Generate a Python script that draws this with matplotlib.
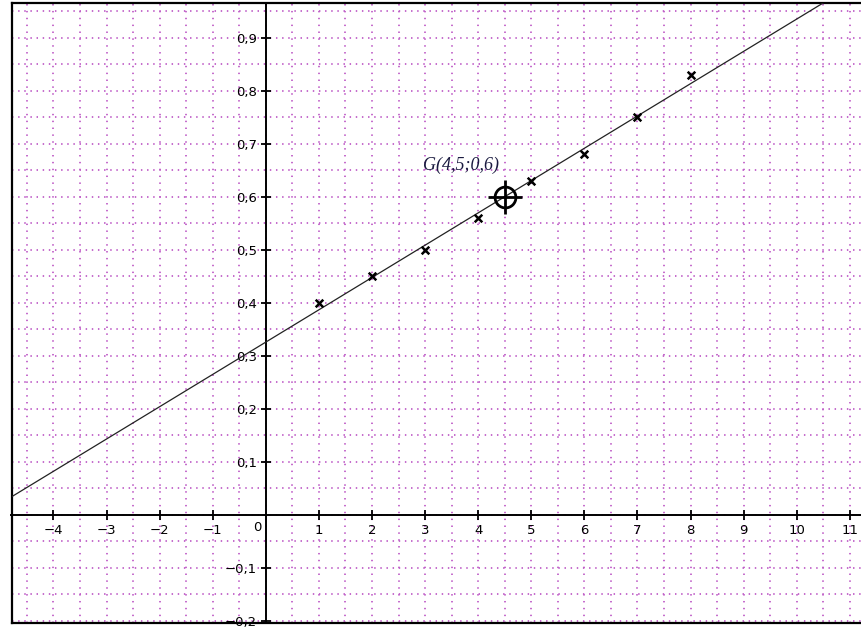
import numpy as np
from matplotlib import pyplot as plt

# data
x_pts = [1, 2, 3, 4, 5, 6, 7, 8]
y_pts = [0.40, 0.45, 0.50, 0.56, 0.63, 0.68, 0.75, 0.83]
g_x, g_y = 4.5, 0.6
g_label = "G(4,5;0,6)"

x_ticks = [-4, -3, -2, -1, 1, 2, 3, 4, 5, 6, 7, 8, 9, 10, 11]
y_ticks = [-0.2, -0.1, 0.1, 0.2, 0.3, 0.4, 0.5, 0.6, 0.7, 0.8, 0.9]

xmin, xmax = -4.79, 11.21
ymin, ymax = -0.2043, 0.9655

# least squares line through the points
xa = np.array(x_pts, dtype=float)
ya = np.array(y_pts, dtype=float)
slope = ((xa - xa.mean()) * (ya - ya.mean())).sum() / ((xa - xa.mean()) ** 2).sum()
icpt = ya.mean() - slope * xa.mean()

fig = plt.figure(figsize=(8.61, 6.28), dpi=100)
ax = fig.add_axes([11.5 / 861, 5 / 628, 849.5 / 861, 620 / 628])
ax.set_xlim(xmin, xmax)
ax.set_ylim(ymin, ymax)

grid_col = '#c060c8'
for gx in np.arange(-4.5, 11.5, 0.5):
    ax.axvline(gx, color=grid_col, lw=1.3, ls=(0, (0.8, 3.0)), zorder=1)
for gy in np.arange(-0.2, 0.96, 0.05):
    ax.axhline(gy, color=grid_col, lw=1.3, ls=(0, (0.8, 2.6)), zorder=1)

xl = np.array([xmin, xmax])
ax.plot(xl, icpt + slope * xl, color='#222222', lw=0.9, zorder=3)
ax.scatter(x_pts, y_pts, marker='x', color='black', s=30, linewidths=1.8, zorder=4)

# G marker: circle with cross
ax.plot(g_x, g_y, marker='o', ms=15, mfc='none', mec='black', mew=2, zorder=5)
ax.plot(g_x, g_y, marker='+', ms=24, mec='black', mew=2, zorder=5)
ax.text(g_x - 0.1, g_y + 0.06, g_label, family='Liberation Serif', style='italic',
        fontsize=13, color='#1a1a40', ha='right', va='center', zorder=6)

# axes through origin
ax.spines['left'].set_position(('data', 0))
ax.spines['bottom'].set_position(('data', 0))
ax.spines['right'].set_visible(False)
ax.spines['top'].set_visible(False)
for s in ('left', 'bottom'):
    ax.spines[s].set_linewidth(1.4)
    ax.spines[s].set_zorder(2)

ax.set_xticks(x_ticks)
ax.set_xticklabels([str(t).replace('-', '\u2212') for t in x_ticks])
ax.set_yticks(y_ticks)
ax.set_yticklabels([('%.1f' % t).replace('.', ',').replace('-', '\u2212') for t in y_ticks])
ax.tick_params(direction='inout', length=7, width=1.3, labelsize=9.5, pad=3)
ax.text(-0.08, -0.012, '0', fontsize=9.5, ha='right', va='top')

# outer frame (left, top, bottom)
for fx, fy in (([0, 0], [0, 1]), ([0, 1], [1, 1]), ([0, 1], [0, 0])):
    ax.plot(fx, fy, transform=ax.transAxes, color='black', lw=1.6, clip_on=False)

fig.savefig('out.png', dpi=100)
